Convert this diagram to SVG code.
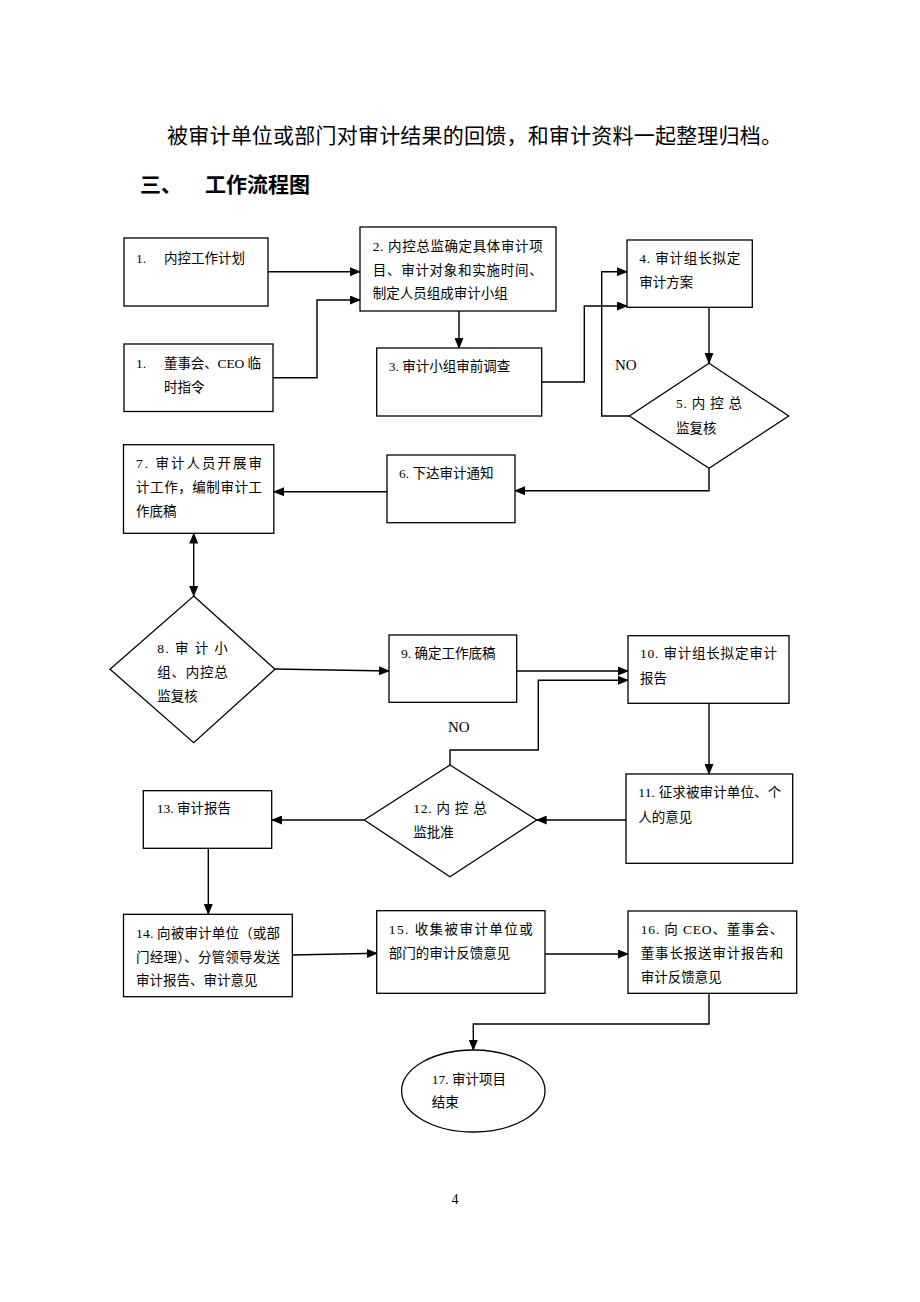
<svg xmlns="http://www.w3.org/2000/svg" width="920" height="1302" viewBox="0 0 920 1302">
<style>
.b{fill:#fff;stroke:#000;stroke-width:1.3}
.t{font-family:"Liberation Serif","Noto Sans CJK SC",serif;font-size:13.5px;fill:#000}
.c{fill:none;stroke:#000;stroke-width:1.4}
.a{marker-end:url(#ah)}
.h{font-family:"Liberation Serif","Noto Sans CJK SC",serif;font-size:21px;fill:#000}
.hb{font-family:"Liberation Sans","Noto Sans CJK SC",sans-serif;font-size:21px;font-weight:bold;fill:#000}
</style>
<defs>
<marker id="ah" markerUnits="userSpaceOnUse" markerWidth="11" markerHeight="9" refX="10" refY="4.5" orient="auto-start-reverse" viewBox="0 0 11 9">
<path d="M0,0 L11,4.5 L0,9 z" fill="#000"/>
</marker>
</defs>
<rect width="920" height="1302" fill="#fff"/>
<g id="header">
<text class="h" x="167" y="143" textLength="615" lengthAdjust="spacing">被审计单位或部门对审计结果的回馈，和审计资料一起整理归档。</text>
<text class="hb" x="140" y="192">三、</text>
<text class="hb" x="205" y="192">工作流程图</text>
</g>
<g id="connectors">
<path class="c a" d="M268,271.7 H360"/>
<path class="c a" d="M273,377.7 H317 V300 H360"/>
<path class="c a" d="M459,311 V348"/>
<path class="c a" d="M541.7,382 H584.3 V306 H627"/>
<path class="c a" d="M629,416 H601.7 V271.7 H627"/>
<path class="c a" d="M709,307 V363"/>
<path class="c a" d="M709,468 V490.7 H515"/>
<path class="c a" d="M387,491.7 H274"/>
<path class="c a" d="M193.7,533.5 V596" marker-start="url(#ah)"/>
<path class="c a" d="M275,669 L389,671"/>
<path class="c a" d="M517,671 H628"/>
<path class="c a" d="M450,765 V750 H538.3 V680.3 H628"/>
<path class="c a" d="M709,703 V774"/>
<path class="c a" d="M626,820 H536.7"/>
<path class="c a" d="M364,820 H272"/>
<path class="c a" d="M208.3,848 V914"/>
<path class="c a" d="M292,955 L377,953.3"/>
<path class="c a" d="M545,954 H628"/>
<path class="c a" d="M709,993 V1024 H473.3 V1050"/>
<text class="t" x="615" y="370" style="font-size:15px">NO</text>
<text class="t" x="448" y="732" style="font-size:15px">NO</text>
</g>
<g id="n1">
<rect class="b" x="124" y="238" width="144" height="68"/>
<text class="t" x="136" y="263">1.</text>
<text class="t" x="164" y="263">内控工作计划</text>
</g>
<g id="n1b">
<rect class="b" x="124" y="344" width="149" height="67.5"/>
<text class="t" x="136" y="368">1.</text>
<text class="t" x="164" y="368" textLength="97" lengthAdjust="spacing">董事会、CEO 临</text>
<text class="t" x="164" y="392">时指令</text>
</g>
<g id="n2">
<rect class="b" x="360" y="227" width="196" height="84"/>
<text class="t" x="372.7" y="251" textLength="170" lengthAdjust="spacing">2. 内控总监确定具体审计项</text>
<text class="t" x="372.7" y="275" textLength="170" lengthAdjust="spacing">目、审计对象和实施时间、</text>
<text class="t" x="372.7" y="298">制定人员组成审计小组</text>
</g>
<g id="n3">
<rect class="b" x="376.7" y="348" width="165" height="68"/>
<text class="t" x="388.7" y="371">3. 审计小组审前调查</text>
</g>
<g id="n4">
<rect class="b" x="627" y="240" width="125.3" height="67.3"/>
<text class="t" x="639.3" y="263" textLength="101" lengthAdjust="spacing">4. 审计组长拟定</text>
<text class="t" x="639.3" y="287">审计方案</text>
</g>
<g id="n5">
<polygon class="b" points="709,363.3 788.7,416 709,468.3 629.3,416"/>
<text class="t" x="676" y="408" textLength="66" lengthAdjust="spacing">5. 内 控 总</text>
<text class="t" x="676" y="433.3">监复核</text>
</g>
<g id="n6">
<rect class="b" x="387" y="455" width="128" height="67.7"/>
<text class="t" x="399" y="478.3">6. 下达审计通知</text>
</g>
<g id="n7">
<rect class="b" x="123.5" y="444.7" width="150.3" height="88.6"/>
<text class="t" x="136" y="468" textLength="126" lengthAdjust="spacing">7. 审计人员开展审</text>
<text class="t" x="136" y="491.7" textLength="126" lengthAdjust="spacing">计工作，编制审计工</text>
<text class="t" x="136" y="516">作底稿</text>
</g>
<g id="n8">
<polygon class="b" points="193.7,596 275,669.3 193.7,742.7 110,669.3"/>
<text class="t" x="157.3" y="653.3" textLength="70.5" lengthAdjust="spacing">8. 审 计 小</text>
<text class="t" x="157.3" y="677.3" textLength="70.5" lengthAdjust="spacing">组、内控总</text>
<text class="t" x="157.3" y="701">监复核</text>
</g>
<g id="n9">
<rect class="b" x="389" y="635" width="127.7" height="67.3"/>
<text class="t" x="401" y="658.3">9. 确定工作底稿</text>
</g>
<g id="n10">
<rect class="b" x="628" y="635.7" width="161" height="67.6"/>
<text class="t" x="640" y="658.3" textLength="137" lengthAdjust="spacing">10. 审计组长拟定审计</text>
<text class="t" x="640" y="683.3">报告</text>
</g>
<g id="n11">
<rect class="b" x="626" y="774" width="166.7" height="89.3"/>
<text class="t" x="638.3" y="796.7" textLength="143" lengthAdjust="spacing">11. 征求被审计单位、个</text>
<text class="t" x="638.3" y="821.7">人的意见</text>
</g>
<g id="n12">
<polygon class="b" points="450,765 536.7,820 450,876.7 364.3,820"/>
<text class="t" x="413.3" y="813.3" textLength="73.4" lengthAdjust="spacing">12. 内 控 总</text>
<text class="t" x="413.3" y="837.3">监批准</text>
</g>
<g id="n13">
<rect class="b" x="143.3" y="790.7" width="128.4" height="57.6"/>
<text class="t" x="156.7" y="813.3">13. 审计报告</text>
</g>
<g id="n14">
<rect class="b" x="123.5" y="914.3" width="168.8" height="82.4"/>
<text class="t" x="136" y="938.3" textLength="144" lengthAdjust="spacing">14. 向被审计单位（或部</text>
<text class="t" x="136" y="961.7" textLength="144" lengthAdjust="spacing">门经理）、分管领导发送</text>
<text class="t" x="136" y="985">审计报告、审计意见</text>
</g>
<g id="n15">
<rect class="b" x="376.7" y="910.7" width="168.3" height="82.6"/>
<text class="t" x="388.7" y="934.3" textLength="144" lengthAdjust="spacing">15. 收集被审计单位或</text>
<text class="t" x="388.7" y="958.3">部门的审计反馈意见</text>
</g>
<g id="n16">
<rect class="b" x="628" y="911" width="168.7" height="82.3"/>
<text class="t" x="640.7" y="934" textLength="142.6" lengthAdjust="spacing">16. 向 CEO、董事会、</text>
<text class="t" x="640.7" y="958.3" textLength="142.6" lengthAdjust="spacing">董事长报送审计报告和</text>
<text class="t" x="640.7" y="981.7">审计反馈意见</text>
</g>
<g id="n17">
<ellipse class="b" cx="473.3" cy="1091" rx="71.7" ry="41"/>
<text class="t" x="431.7" y="1084">17. 审计项目</text>
<text class="t" x="431.7" y="1106.7">结束</text>
</g>
<g id="footer">
<text class="t" x="451.5" y="1204" style="font-size:14px">4</text>
</g>
</svg>
